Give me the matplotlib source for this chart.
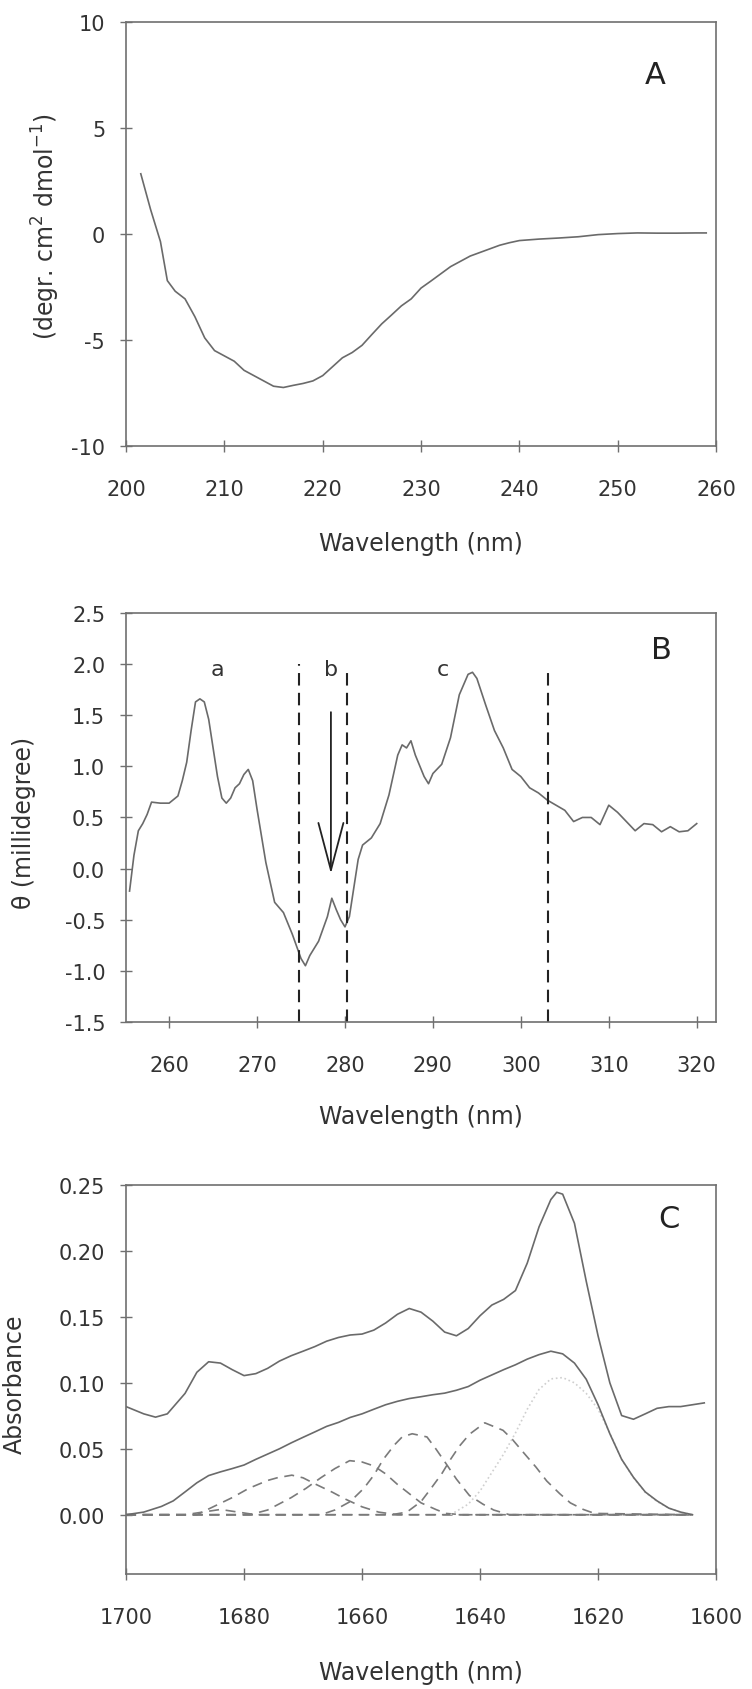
import matplotlib
matplotlib.use("Agg")
import matplotlib.pyplot as plt

plt.rcParams['font.family'] = ['DejaVu Sans']
plt.rcParams['axes.unicode_minus'] = False

# ---- panel A: far-UV CD ----
wl_a = [201.5, 202.5, 203.5, 204.2, 205, 206, 207, 208, 209, 210, 211, 212, 213, 214,
        215, 216, 217, 218, 219, 220, 221, 222, 223, 224, 225, 226, 227, 228, 229,
        230, 231, 232, 233, 234, 235, 236, 237, 238, 239, 240, 242, 244, 246, 248,
        250, 252, 254, 256, 258, 259]
cd_a = [2.84, 1.15, -0.36, -2.2, -2.7, -3.06, -3.9, -4.9, -5.5, -5.75, -6.0, -6.43, -6.68, -6.93,
        -7.18, -7.24, -7.14, -7.05, -6.93, -6.68, -6.26, -5.84, -5.59, -5.25, -4.74, -4.24, -3.82, -3.39, -3.06,
        -2.55, -2.22, -1.88, -1.54, -1.29, -1.04, -0.87, -0.70, -0.53, -0.41, -0.31, -0.24, -0.19, -0.13, -0.03,
        0.02, 0.05, 0.04, 0.04, 0.05, 0.05]

# ---- panel B: near-UV CD ----
wl_b = [255.5, 256, 256.5, 257, 257.5, 258, 259, 260, 261, 261.5, 262, 262.5, 263, 263.5, 264, 264.5,
        265, 265.5, 266, 266.5, 267, 267.5, 268, 268.5, 269, 269.5, 270, 271, 272, 273, 274, 275,
        275.5, 276, 277, 278, 278.5, 279, 279.5, 280, 280.5, 281, 281.5, 282, 283, 283.5, 284, 285,
        286, 286.5, 287, 287.5, 288, 289, 289.5, 290, 291, 292, 293, 294, 294.5, 295, 296, 297, 298,
        299, 300, 301, 302, 303, 304, 305, 306, 307, 308, 309, 310, 311, 312, 313, 314, 315, 316,
        317, 318, 319, 320]
theta_b = [-0.22, 0.13, 0.37, 0.44, 0.53, 0.65, 0.64, 0.64, 0.71, 0.86, 1.04, 1.35, 1.63, 1.66, 1.63, 1.46,
           1.18, 0.90, 0.69, 0.64, 0.69, 0.79, 0.83, 0.92, 0.97, 0.86, 0.58, 0.06, -0.33, -0.43, -0.64, -0.88,
           -0.95, -0.85, -0.71, -0.47, -0.29, -0.40, -0.50, -0.57, -0.47, -0.19, 0.09, 0.23, 0.30, 0.37, 0.44, 0.72,
           1.11, 1.21, 1.18, 1.25, 1.11, 0.90, 0.83, 0.93, 1.02, 1.28, 1.70, 1.90, 1.92, 1.86, 1.60, 1.35, 1.18,
           0.97, 0.90, 0.79, 0.74, 0.67, 0.62, 0.57, 0.46, 0.50, 0.50, 0.43, 0.62, 0.55, 0.46, 0.37, 0.44, 0.43, 0.36,
           0.41, 0.36, 0.37, 0.44]
band_edges = [274.8, 280.2, 303.1]
band_tops = [2.0, 1.95, 1.92]
band_names = ['a', 'b', 'c']
band_name_x = [265.5, 278.4, 291.1]

# ---- panel C: amide I IR ----
wn_c = [1700, 1697, 1695, 1693, 1690, 1688, 1686, 1684, 1682, 1680, 1678, 1676, 1674, 1672, 1670,
        1668, 1666, 1664, 1662, 1660, 1658, 1656, 1654, 1652, 1650, 1648, 1646, 1644, 1642, 1640,
        1638, 1636, 1634, 1632, 1630, 1628, 1627, 1626, 1624, 1622, 1620, 1618, 1616, 1614, 1612,
        1610, 1608, 1606, 1604, 1602]
abs_c = [0.082, 0.0765, 0.074, 0.0765, 0.092, 0.108, 0.116, 0.115, 0.110, 0.1055, 0.107, 0.111, 0.1165, 0.1206, 0.124,
         0.1275, 0.1316, 0.1344, 0.1363, 0.137, 0.140, 0.1454, 0.152, 0.1564, 0.1536, 0.1468, 0.1385, 0.1357, 0.1412, 0.1509,
         0.159, 0.1633, 0.170, 0.1908, 0.2183, 0.239, 0.2445, 0.2431, 0.221, 0.177, 0.1357, 0.100, 0.0752, 0.0724, 0.0765,
         0.0807, 0.082, 0.082, 0.0834, 0.0848]
wn_fit = [1700, 1697, 1694, 1692, 1690, 1688, 1686, 1684, 1682, 1680, 1678, 1676, 1674, 1672, 1670, 1668,
          1666, 1664, 1662, 1660, 1658, 1656, 1654, 1652, 1650, 1648, 1646, 1644, 1642, 1640, 1638, 1636,
          1634, 1632, 1630, 1628, 1626, 1624, 1622, 1620, 1618, 1616, 1614, 1612, 1610, 1608, 1606, 1604]
abs_fit = [0.000, 0.002, 0.0063, 0.0105, 0.0173, 0.0242, 0.0297, 0.0325, 0.035, 0.0377, 0.042, 0.046, 0.050, 0.0545,
           0.0587, 0.0628, 0.067, 0.070, 0.0738, 0.0765, 0.080, 0.0834, 0.086, 0.0881, 0.0895, 0.091, 0.0922, 0.0944,
           0.0972, 0.102, 0.106, 0.110, 0.1137, 0.118, 0.1214, 0.124, 0.122, 0.115, 0.1027, 0.0834, 0.0614, 0.042,
           0.0284, 0.0173, 0.0105, 0.005, 0.002, 0.000]

# fitted components
comp1_x = [1700, 1690, 1687, 1684, 1681, 1678, 1604]
comp1_y = [0.0, 0.0, 0.002, 0.004, 0.002, 0.0, 0.0]
comp2_x = [1700, 1688, 1685.7, 1682, 1679.2, 1676, 1674.4, 1671.9, 1670, 1667.8, 1665, 1662.9, 1660, 1657.2, 1654, 1604]
comp2_y = [0.0, 0.0, 0.005, 0.013, 0.020, 0.026, 0.028, 0.030, 0.028, 0.023, 0.017, 0.012, 0.006, 0.002, 0.0, 0.0]
comp3_x = [1700, 1679, 1676, 1672, 1669.5, 1667, 1664.6, 1662.1, 1660, 1658, 1656, 1654, 1652, 1650, 1647.5, 1645.8, 1643, 1604]
comp3_y = [0.0, 0.0, 0.0036, 0.013, 0.020, 0.028, 0.035, 0.041, 0.040, 0.037, 0.031, 0.023, 0.016, 0.009, 0.004, 0.001, 0.0, 0.0]
comp4_x = [1700, 1667, 1664.6, 1662, 1659.7, 1658, 1656.4, 1654.5, 1653.2, 1651.5, 1649, 1647.5, 1645.8, 1644, 1641.8, 1639.5, 1637.7, 1635, 1604]
comp4_y = [0.0, 0.0, 0.0036, 0.010, 0.020, 0.030, 0.042, 0.053, 0.059, 0.0614, 0.059, 0.050, 0.039, 0.027, 0.0146, 0.008, 0.0036, 0.0, 0.0]
comp5_x = [1700, 1655, 1652.4, 1650, 1648.3, 1646.5, 1645, 1643.5, 1641.8, 1639.2, 1636.1, 1634.5, 1632.8, 1630.5, 1628.7, 1626.5, 1624.7, 1622.5, 1620.6, 1604]
comp5_y = [0.0, 0.0, 0.002, 0.010, 0.020, 0.031, 0.042, 0.052, 0.061, 0.0697, 0.064, 0.057, 0.048, 0.036, 0.0256, 0.016, 0.009, 0.004, 0.001, 0.0]
comp6_x = [1645, 1642, 1640, 1638, 1636, 1634, 1632, 1630, 1628, 1626, 1624, 1622, 1620, 1618, 1616, 1614, 1612, 1610, 1608, 1606, 1604]
comp6_y = [0.0, 0.008, 0.018, 0.032, 0.046, 0.062, 0.080, 0.095, 0.103, 0.104, 0.100, 0.092, 0.080, 0.062, 0.042, 0.028, 0.017, 0.010, 0.005, 0.002, 0.0]

line_col = '#6a6a6a'
spine_col = '#707070'
text_col = '#333333'
tick_fs = 15
lab_fs = 17


def style_axes(ax):
    for sp in ax.spines.values():
        sp.set_color(spine_col)
        sp.set_linewidth(1.2)
    ax.tick_params(axis='both', direction='inout', length=8, width=1, color=spine_col,
                   labelsize=tick_fs, labelcolor=text_col)
    ax.tick_params(axis='x', pad=20)
    ax.tick_params(axis='y', pad=11)


fig = plt.figure(figsize=(7.52, 16.9), dpi=100)
ax_a = fig.add_axes([0.1676, 0.7355, 0.7846, 0.2509])
ax_b = fig.add_axes([0.1676, 0.3947, 0.7846, 0.2420])
ax_c = fig.add_axes([0.1676, 0.0680, 0.7846, 0.2302])

# A
ax_a.plot(wl_a, cd_a, color=line_col, lw=1.2)
ax_a.set_xlim(200, 260)
ax_a.set_ylim(-10, 10)
ax_a.set_xticks(range(200, 261, 10))
ax_a.set_yticks([-10, -5, 0, 5, 10])
style_axes(ax_a)
ax_a.set_xlabel('Wavelength (nm)', fontsize=lab_fs, color=text_col)
ax_a.set_ylabel(r'(degr. cm$^{2}$ dmol$^{-1}$)', fontsize=lab_fs, color=text_col)
ax_a.yaxis.set_label_coords(-0.108, 0.52)
ax_a.xaxis.set_label_coords(0.5, -0.2)
ax_a.text(0.897, 0.875, 'A', transform=ax_a.transAxes, fontsize=22, ha='center', va='center', color='#222222')

# B
ax_b.plot(wl_b, theta_b, color=line_col, lw=1.2)
for xe, yt in zip(band_edges, band_tops):
    ax_b.plot([xe, xe], [-1.5, yt], color='#222222', lw=1.5, linestyle=(0, (6, 3.5)))
for nm, xn in zip(band_names, band_name_x):
    ax_b.text(xn, 1.95, nm, fontsize=16, ha='center', va='center', color=text_col)
ax_b.annotate('', xy=(278.4, -0.05), xytext=(278.4, 1.53),
              arrowprops=dict(arrowstyle='->,head_length=3.4,head_width=0.9', color='#222222',
                              lw=1.3, shrinkA=0, shrinkB=0))
ax_b.set_xlim(255.1, 322.2)
ax_b.set_ylim(-1.5, 2.5)
ax_b.set_xticks(range(260, 321, 10))
ax_b.set_yticks([-1.5, -1.0, -0.5, 0.0, 0.5, 1.0, 1.5, 2.0, 2.5])
ax_b.set_yticklabels(['%.1f' % v for v in [-1.5, -1.0, -0.5, 0.0, 0.5, 1.0, 1.5, 2.0, 2.5]])
style_axes(ax_b)
ax_b.set_xlabel('Wavelength (nm)', fontsize=lab_fs, color=text_col)
ax_b.set_ylabel('θ (millidegree)', fontsize=lab_fs, color=text_col)
ax_b.yaxis.set_label_coords(-0.153, 0.49)
ax_b.xaxis.set_label_coords(0.5, -0.2)
ax_b.text(0.907, 0.91, 'B', transform=ax_b.transAxes, fontsize=22, ha='center', va='center', color='#222222')

# C
dash = (0, (6, 4))
for cx, cy in [(comp1_x, comp1_y), (comp2_x, comp2_y), (comp3_x, comp3_y),
               (comp4_x, comp4_y), (comp5_x, comp5_y)]:
    ax_c.plot(cx, cy, color='#7a7a7a', lw=1.2, linestyle=dash)
ax_c.plot(comp6_x, comp6_y, color='#cfcfcf', lw=1.2, linestyle=':')
ax_c.plot(wn_fit, abs_fit, color=line_col, lw=1.2)
ax_c.plot(wn_c, abs_c, color=line_col, lw=1.2)
ax_c.set_xlim(1700, 1600)
ax_c.set_ylim(-0.045, 0.25)
ax_c.set_xticks(range(1700, 1599, -20))
ax_c.set_yticks([0.0, 0.05, 0.10, 0.15, 0.20, 0.25])
ax_c.set_yticklabels(['%.2f' % v for v in [0.0, 0.05, 0.10, 0.15, 0.20, 0.25]])
style_axes(ax_c)
ax_c.set_xlabel('Wavelength (nm)', fontsize=lab_fs, color=text_col)
ax_c.set_ylabel('Absorbance', fontsize=lab_fs, color=text_col)
ax_c.yaxis.set_label_coords(-0.168, 0.49)
ax_c.xaxis.set_label_coords(0.5, -0.22)
ax_c.text(0.92, 0.913, 'C', transform=ax_c.transAxes, fontsize=22, ha='center', va='center', color='#222222')

fig.savefig('out.png', dpi=100)
